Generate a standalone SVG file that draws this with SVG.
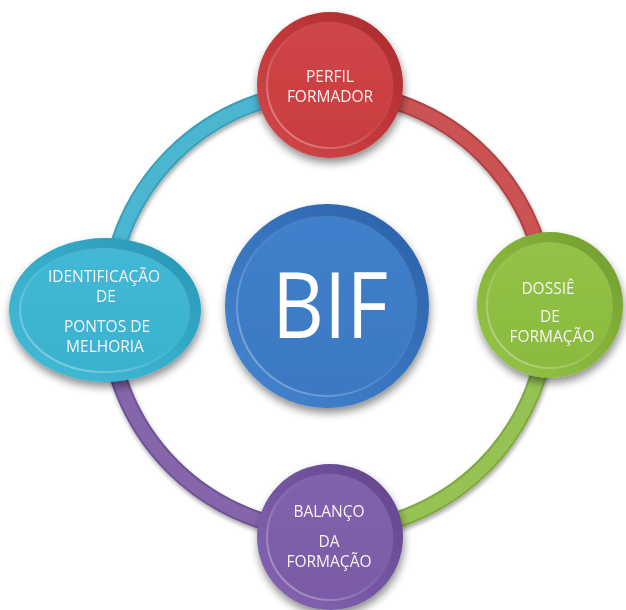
<svg xmlns="http://www.w3.org/2000/svg" width="626" height="610" viewBox="0 0 626 610">
<style>
  .lbl { font-family: "Open Sans", "Liberation Sans", sans-serif; font-size: 15.5px; fill: #f7f3f3; text-anchor: middle; }
  .big { font-family: "Open Sans", "Liberation Sans", sans-serif; font-size: 91px; fill: #ffffff; text-anchor: middle; }
  .arc { fill: none; stroke-width: 17; }
  .arcin { fill: none; stroke-width: 13; }
</style>
<defs>
  <filter id="shadow" x="-30%" y="-30%" width="160%" height="170%">
    <feGaussianBlur in="SourceAlpha" stdDeviation="4"/>
    <feOffset dx="1" dy="5" result="b"/>
    <feComponentTransfer><feFuncA type="linear" slope="0.45"/></feComponentTransfer>
    <feMerge><feMergeNode/><feMergeNode in="SourceGraphic"/></feMerge>
  </filter>
  <filter id="arcshadow" x="-20%" y="-20%" width="140%" height="140%">
    <feGaussianBlur in="SourceAlpha" stdDeviation="2"/>
    <feOffset dx="1" dy="3" result="b"/>
    <feComponentTransfer><feFuncA type="linear" slope="0.35"/></feComponentTransfer>
    <feMerge><feMergeNode/><feMergeNode in="SourceGraphic"/></feMerge>
  </filter>
  <linearGradient id="rimRed" x1="0" y1="1" x2="1" y2="0">
    <stop offset="0" stop-color="#d24a4c"/><stop offset="0.5" stop-color="#c23739"/><stop offset="1" stop-color="#a92b2d"/>
  </linearGradient>
  <linearGradient id="faceRed" x1="0" y1="0" x2="0" y2="1">
    <stop offset="0" stop-color="#d04547"/><stop offset="1" stop-color="#c93d3f"/>
  </linearGradient>
  <linearGradient id="rimGreen" x1="0" y1="1" x2="1" y2="0">
    <stop offset="0" stop-color="#98c64c"/><stop offset="0.5" stop-color="#86b43a"/><stop offset="1" stop-color="#709c2d"/>
  </linearGradient>
  <linearGradient id="faceGreen" x1="0" y1="0" x2="0" y2="1">
    <stop offset="0" stop-color="#93c246"/><stop offset="1" stop-color="#8abb3e"/>
  </linearGradient>
  <linearGradient id="rimPurple" x1="0" y1="1" x2="1" y2="0">
    <stop offset="0" stop-color="#8668b2"/><stop offset="0.5" stop-color="#7455a1"/><stop offset="1" stop-color="#60448a"/>
  </linearGradient>
  <linearGradient id="facePurple" x1="0" y1="0" x2="0" y2="1">
    <stop offset="0" stop-color="#8062ad"/><stop offset="1" stop-color="#7a5ba6"/>
  </linearGradient>
  <linearGradient id="rimCyan" x1="0" y1="1" x2="1" y2="0">
    <stop offset="0" stop-color="#48bcd8"/><stop offset="0.5" stop-color="#35adcb"/><stop offset="1" stop-color="#2894b3"/>
  </linearGradient>
  <linearGradient id="faceCyan" x1="0" y1="0" x2="0" y2="1">
    <stop offset="0" stop-color="#42b8d5"/><stop offset="1" stop-color="#3ab2cf"/>
  </linearGradient>
  <linearGradient id="rimBlue" x1="0" y1="1" x2="1" y2="0">
    <stop offset="0" stop-color="#4685cf"/><stop offset="0.5" stop-color="#3874bf"/><stop offset="1" stop-color="#2a5fa6"/>
  </linearGradient>
  <linearGradient id="faceBlue" x1="0" y1="0" x2="0" y2="1">
    <stop offset="0" stop-color="#4080ca"/><stop offset="1" stop-color="#3a79c2"/>
  </linearGradient>
  <linearGradient id="bevel" x1="0" y1="1" x2="1" y2="0">
    <stop offset="0" stop-color="#ffffff" stop-opacity="0.4"/><stop offset="0.5" stop-color="#ffffff" stop-opacity="0.08"/><stop offset="1" stop-color="#000000" stop-opacity="0.12"/>
  </linearGradient>
</defs>

<g id="connectors" filter="url(#arcshadow)">
  <path class="arc" stroke="#3a9fba" d="M108,311 A220,220 0 0 1 328,91"/>
  <path class="arcin" stroke="#4bb6d0" d="M108,311 A220,220 0 0 1 328,91"/>
  <path class="arc" stroke="#b24244" d="M328,91 A220,220 0 0 1 548,311"/>
  <path class="arcin" stroke="#cc5253" d="M328,91 A220,220 0 0 1 548,311"/>
  <path class="arc" stroke="#7fa844" d="M548,311 A220,220 0 0 1 328,531"/>
  <path class="arcin" stroke="#95c252" d="M548,311 A220,220 0 0 1 328,531"/>
  <path class="arc" stroke="#6e5296" d="M328,531 A220,220 0 0 1 108,311"/>
  <path class="arcin" stroke="#8566ab" d="M328,531 A220,220 0 0 1 108,311"/>
</g>

<g id="node-bif" filter="url(#shadow)">
  <circle cx="327" cy="306" r="102" fill="url(#rimBlue)"/>
  <circle cx="327" cy="306" r="90" fill="url(#faceBlue)" stroke="url(#bevel)" stroke-width="2"/>
  <text class="big" x="330" y="338" textLength="116" lengthAdjust="spacingAndGlyphs">BIF</text>
</g>

<g id="node-perfil" filter="url(#shadow)">
  <circle cx="330" cy="85" r="73" fill="url(#rimRed)"/>
  <circle cx="330" cy="85" r="63" fill="url(#faceRed)" stroke="url(#bevel)" stroke-width="2"/>
  <text class="lbl" x="330" y="82">PERFIL</text>
  <text class="lbl" x="330" y="102">FORMADOR</text>
</g>

<g id="node-dossie" filter="url(#shadow)">
  <circle cx="550" cy="305" r="73" fill="url(#rimGreen)"/>
  <circle cx="550" cy="305" r="63" fill="url(#faceGreen)" stroke="url(#bevel)" stroke-width="2"/>
  <text class="lbl" x="548" y="294">DOSSIÊ</text>
  <text class="lbl" x="550" y="322">DE</text>
  <text class="lbl" x="552" y="342">FORMAÇÃO</text>
</g>

<g id="node-balanco" filter="url(#shadow)">
  <circle cx="330" cy="537" r="73" fill="url(#rimPurple)"/>
  <circle cx="330" cy="537" r="63" fill="url(#facePurple)" stroke="url(#bevel)" stroke-width="2"/>
  <text class="lbl" x="329" y="517">BALANÇO</text>
  <text class="lbl" x="329" y="547">DA</text>
  <text class="lbl" x="329" y="567">FORMAÇÃO</text>
</g>

<g id="node-identificacao" filter="url(#shadow)">
  <ellipse cx="105" cy="310" rx="96" ry="72" fill="url(#rimCyan)"/>
  <ellipse cx="105" cy="310" rx="85" ry="62" fill="url(#faceCyan)" stroke="url(#bevel)" stroke-width="2"/>
  <text class="lbl" x="104" y="282">IDENTIFICAÇÃO</text>
  <text class="lbl" x="106" y="302">DE</text>
  <text class="lbl" x="107" y="332">PONTOS DE</text>
  <text class="lbl" x="105" y="352">MELHORIA</text>
</g>
</svg>
